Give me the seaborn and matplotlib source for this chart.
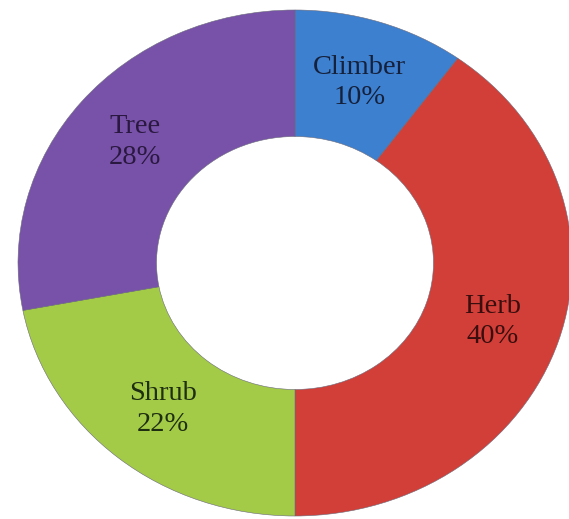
import matplotlib
matplotlib.use("Agg")
import matplotlib.pyplot as plt
import seaborn as sns

categories = ["Climber", "Herb", "Shrub", "Tree"]
values = [10, 40, 22, 28]
colors = ["#3d80d0", "#d23f38", "#a3cb47", "#7852a9"]
text_colors = ["#15203a", "#3a0e0e", "#1e2e10", "#2a1840"]

sns.set_theme(style="white")
plt.rcParams["font.family"] = ["Liberation Serif", "DejaVu Serif"]

fig = plt.figure(figsize=(5.69, 5.19), dpi=100)
ax = fig.add_axes([18 / 569, 3 / 519, 554 / 569, 506 / 519])

labels = [f"{c}\n{v}%" for c, v in zip(categories, values)]
wedges, texts = ax.pie(
    values,
    labels=labels,
    colors=sns.color_palette(colors),
    startangle=90,
    counterclock=False,
    labeldistance=0.75,
    radius=1.0,
    wedgeprops=dict(width=0.5, edgecolor="#6a6a7a", linewidth=0.4),
    textprops=dict(fontsize=20.5, linespacing=1.3),
)
for t, tc in zip(texts, text_colors):
    t.set_ha("center")
    t.set_va("center")
    t.set_color(tc)

ax.set_aspect("auto")
ax.set_xlim(-1, 1)
ax.set_ylim(-1, 1)
ax.axis("off")

fig.savefig("out.png", dpi=100, facecolor="white")
